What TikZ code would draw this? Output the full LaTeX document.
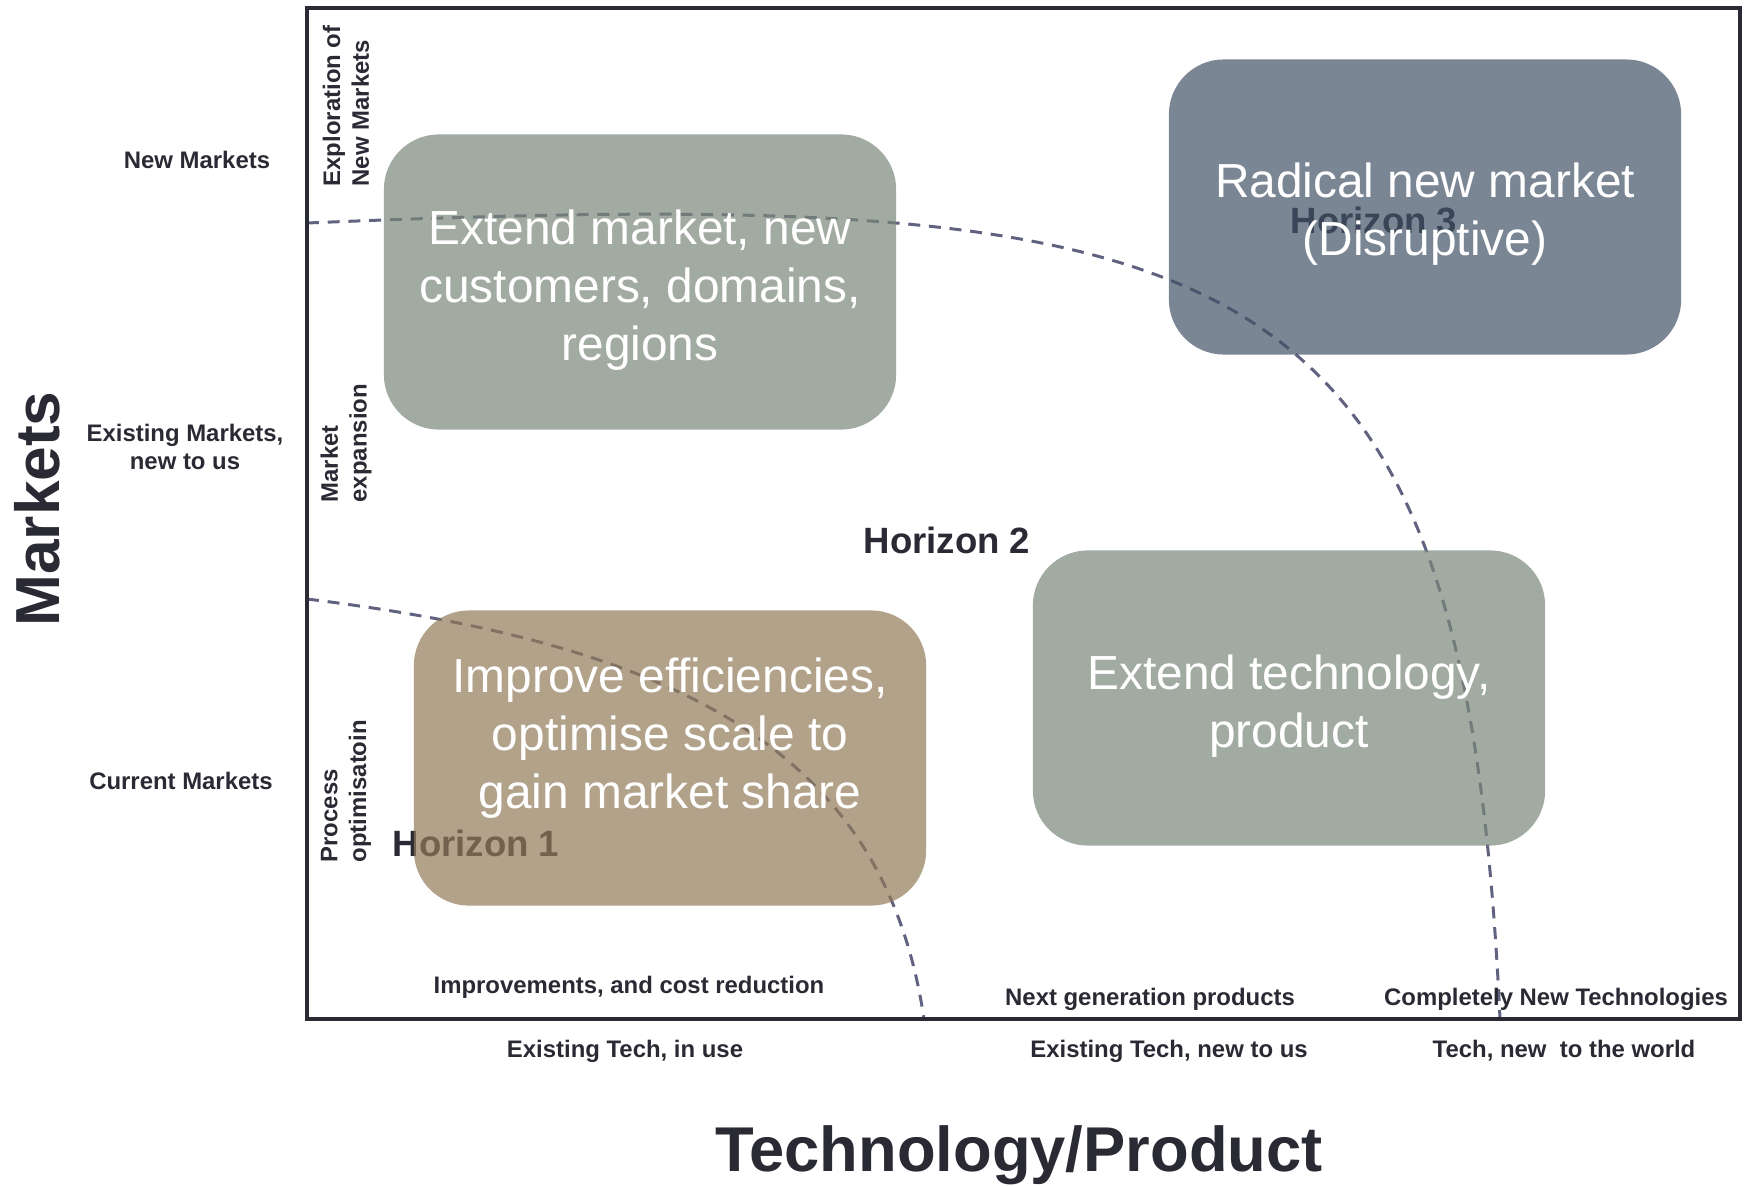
\documentclass[tikz,border=0pt]{standalone}
\usepackage{fontspec}
\setmainfont{Liberation Sans}
\definecolor{ink}{RGB}{42,42,52}
\definecolor{curve}{RGB}{96,98,128}
\definecolor{sage}{RGB}{121,135,122}
\definecolor{slate}{RGB}{65,82,102}
\definecolor{sand}{RGB}{145,122,88}
\tikzset{
	zone/.style={rounded corners=0.55cm, minimum width=5.12cm, minimum height=2.95cm, inner sep=0, fill opacity=0.7},
	zonetext/.style={text=white, align=center, font=\fontsize{13.6}{16.5}\selectfont},
	horizon/.style={text=ink, font=\bfseries\fontsize{10.4}{12}\selectfont},
	axislabel/.style={text=ink, align=center, inner sep=0, font=\bfseries\fontsize{6.8}{8.2}\selectfont},
	sidelabel/.style={axislabel, rotate=90, align=left, anchor=west},
	boundary/.style={curve, line width=0.85pt, dash pattern=on 3.4pt off 2.5pt},
}
\begin{document}
\begin{tikzpicture}[x=0.01cm, y=-0.01cm]
	\useasboundingbox (0,0) rectangle (1746,1185);
	\coordinate (NW) at (307,8);
	\coordinate (SE) at (1740,1019);
	\coordinate (H3a) at (307,223);
	\coordinate (H3b) at (1500,1019);
	\coordinate (H1a) at (307,599);
	\coordinate (H1b) at (924,1019);
	\draw[boundary] (H3a) .. controls (1247,184) and (1464,245) .. (H3b);
	\draw[boundary] (H1a) .. controls (690,646) and (885,757) .. (H1b);
	\draw[ink, line width=1.4pt] (NW) rectangle (SE);
	\node[horizon] (hone) at (476,843) {Horizon 1};
	\node[horizon] (htwo) at (947,540) {Horizon 2};
	\node[horizon] (hthree) at (1374,220) {Horizon 3};
	\node[zone, fill=sage] (marketbox) at (640,282) {};
	\node[zone, fill=slate] (radicalbox) at (1425,207) {};
	\node[zone, fill=sand] (processbox) at (670,758) {};
	\node[zone, fill=sage] (techbox) at (1289,698) {};
	\node[zonetext] (markettext) at (640,290) {Extend market, new\\customers, domains,\\regions};
	\node[zonetext] (radicaltext) at (1425,214) {Radical new market\\(Disruptive)};
	\node[zonetext] (processtext) at (670,738) {Improve efficiencies,\\optimise scale to\\gain market share};
	\node[zonetext] (techtext) at (1289,706) {Extend technology,\\product};
	\node[axislabel] (newmkt) at (197,160) {New Markets};
	\node[axislabel] (existmkt) at (185,447) {Existing Markets,\\new to us};
	\node[axislabel] (curmkt) at (181,781) {Current Markets};
	\node[sidelabel] (explore) at (346,187) {Exploration of\\New Markets};
	\node[sidelabel] (expand) at (346,503) {Market\\expansion};
	\node[sidelabel] (optim) at (346,863) {Process\\optimisatoin};
	\node[axislabel] (improve) at (629,987) {Improvements, and cost reduction};
	\node[axislabel] (nextgen) at (1150,999) {Next generation products};
	\node[axislabel] (newtech) at (1556,999) {Completely New Technologies};
	\node[axislabel] (inuse) at (625,1051) {Existing Tech, in use};
	\node[axislabel] (newtous) at (1169,1051) {Existing Tech, new to us};
	\node[axislabel] (newworld) at (1564,1051) {Tech, new\ \ to the world};
	\node[text=ink, rotate=90, font=\bfseries\fontsize{17.7}{20}\selectfont] (markets) at (37,509) {Markets};
	\node[text=ink, font=\bfseries\fontsize{18}{20}\selectfont] (techprod) at (1019,1155) {Technology/Product};
\end{tikzpicture}
\end{document}
